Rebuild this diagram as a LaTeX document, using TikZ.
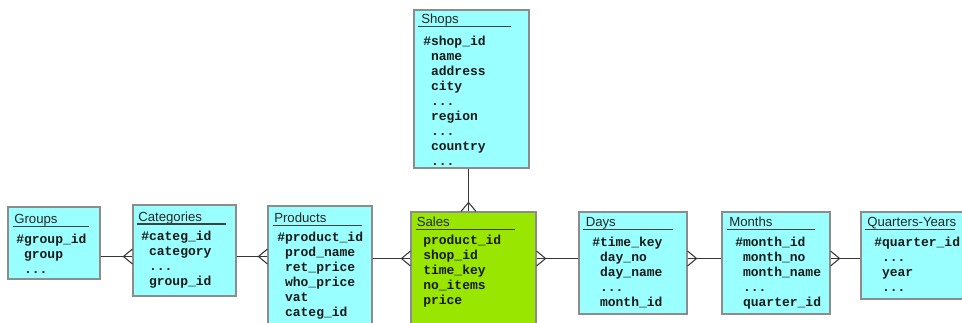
\documentclass[tikz,border=0pt]{standalone}
\usepackage{fontspec}
\setmainfont{Liberation Sans}
\setmonofont{Liberation Mono}
\usetikzlibrary{fit}

\definecolor{dimcyan}{RGB}{153,255,255}
\definecolor{factgreen}{RGB}{153,230,0}
\definecolor{framegray}{RGB}{140,140,140}
\definecolor{rulegray}{RGB}{64,64,64}
\definecolor{linkgray}{RGB}{55,55,55}

\tikzset{
  entity/.style={draw=framegray, line width=0.8pt, fill=dimcyan, inner sep=0pt},
  factentity/.style={entity, fill=factgreen},
  tabletitle/.style={font=\fontsize{9.9}{11}\selectfont, text=black!85, inner sep=0pt, anchor=base west},
  attr/.style={font=\ttfamily\bfseries\fontsize{9.75}{11}\selectfont, text=black!90, inner sep=0pt, anchor=base west},
  headrule/.style={draw=rulegray, line width=1.1pt},
  link/.style={draw=linkgray, line width=0.8pt},
  % crow's feet; the open side touches the "many" table
  crowE/.pic={\draw[link] (0,-7.5) -- (-9,0) -- (0,7.5);},
  crowW/.pic={\draw[link] (0,-7.5) -- (9,0) -- (0,7.5);},
  crowS/.pic={\draw[link] (-7.5,0) -- (0,-9) -- (7.5,0);},
}

% one column of attribute lines, 15px apart
\newcommand\fieldlist[4]{%
  \foreach \f [count=\i from 0] in {#4}{\node[attr] (#1-\i) at (#2,#3+15*\i) {\f};}}
\newcommand\ind{\hphantom{\#}}
\newcommand\more{\ind.{}.{}.}

\begin{document}
\begin{tikzpicture}[x=0.75pt,y=-0.75pt]
\useasboundingbox (0,0) rectangle (962,322);

% tables
\node[entity, fit={(414,10) (529,168)}] (shops) {};
\node[entity, fit={(8,207) (100,279)}] (groups) {};
\node[entity, fit={(133,205) (236,296)}] (categ) {};
\node[entity, fit={(268,206) (372,335)}] (prod) {};
\node[factentity, fit={(411,212) (536,335)}] (sales) {};
\node[entity, fit={(579,212) (687,314)}] (days) {};
\node[entity, fit={(722,212) (830,314)}] (months) {};
\node[entity, fit={(861,212) (975,299)}] (quarters) {};

% relationships
\coordinate (colA) at (468.5,0);
\coordinate (rowA) at (0,256.5);
\coordinate (rowB) at (0,258.5);
\draw[link] (shops.south -| colA) -- (sales.north -| colA);
\pic at (sales.north -| colA) {crowS};
\draw[link] (groups.east |- rowA) -- (categ.west |- rowA);
\pic at (categ.west |- rowA) {crowE};
\draw[link] (categ.east |- rowA) -- (prod.west |- rowA);
\pic at (prod.west |- rowA) {crowE};
\draw[link] (prod.east |- rowB) -- (sales.west |- rowB);
\pic at (sales.west |- rowB) {crowE};
\draw[link] (sales.east |- rowB) -- (days.west |- rowB);
\pic at (sales.east |- rowB) {crowW};
\draw[link] (days.east |- rowB) -- (months.west |- rowB);
\pic at (days.east |- rowB) {crowW};
\draw[link] (months.east |- rowB) -- (quarters.west |- rowB);
\pic at (months.east |- rowB) {crowW};

% Shops
\node[tabletitle] (shops-title) at (421,23.9) {Shops};
\draw[headrule] (418,26.7) -- (511,26.7);
\fieldlist{shops}{423}{45}{\#shop\_id, \ind name, \ind address, \ind city, \more, \ind region, \more, \ind country, \more}

% Groups
\node[tabletitle] (groups-title) at (14,223.9) {Groups};
\draw[headrule] (13,226.7) -- (89,226.7);
\fieldlist{groups}{16}{243}{\#group\_id, \ind group, \more}

% Categories
\node[tabletitle] (categ-title) at (138,221.2) {Categories};
\draw[headrule] (137,224) -- (226,224);
\fieldlist{categ}{141}{240}{\#categ\_id, \ind category, \more, \ind group\_id}

% Products
\node[tabletitle] (prod-title) at (274,222.9) {Products};
\draw[headrule] (273,225.7) -- (362,225.7);
\fieldlist{prod}{277}{241.3}{\#product\_id, \ind prod\_name, \ind ret\_price, \ind who\_price, \ind vat, \ind categ\_id}

% Sales (fact table)
\node[tabletitle] (sales-title) at (416.5,226.5) {Sales};
\draw[headrule] (416,229.3) -- (515,229.3);
\fieldlist{sales}{423}{244.7}{product\_id, shop\_id, time\_key, no\_items, price}

% Days
\node[tabletitle] (days-title) at (585.5,226.5) {Days};
\draw[headrule] (583,229.3) -- (673,229.3);
\fieldlist{days}{592}{246.3}{\#time\_key, \ind day\_no, \ind day\_name, \more, \ind month\_id}

% Months
\node[tabletitle] (months-title) at (729,226.5) {Months};
\draw[headrule] (727,229.3) -- (815,229.3);
\fieldlist{months}{735}{246.3}{\#month\_id, \ind month\_no, \ind month\_name, \more, \ind quarter\_id}

% Quarters-Years
\node[tabletitle] (quarters-title) at (867,226.5) {Quarters-Years};
\draw[headrule] (865,229.3) -- (955,229.3);
\fieldlist{quarters}{874}{246.3}{\#quarter\_id, \more, \ind year, \more}
\end{tikzpicture}
\end{document}
